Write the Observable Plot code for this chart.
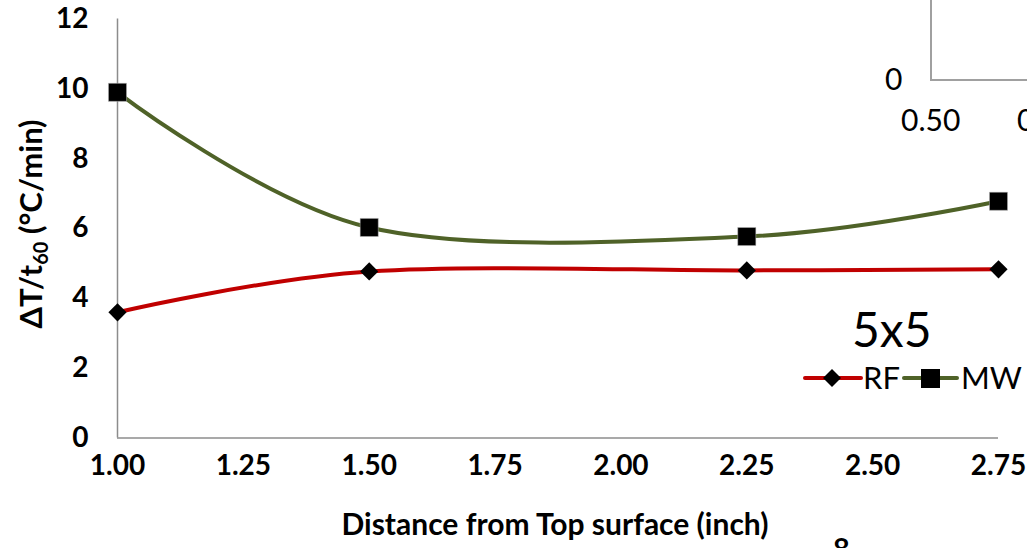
<!DOCTYPE html>
<html><head><meta charset="utf-8">
<script src="https://cdn.jsdelivr.net/npm/d3@7"></script>
<script src="https://cdn.jsdelivr.net/npm/@observablehq/plot@0.6"></script>
<style>
html,body{margin:0;padding:0;background:#fff;}
body{width:1027px;height:548px;overflow:hidden;position:relative;font-family:Lato,sans-serif;}
#chart{position:absolute;left:0;top:0;}
.abs{position:absolute;white-space:nowrap;color:#000;line-height:1.2;}
#ytitle{position:absolute;left:31px;top:224px;transform:translate(-50%,-50%) rotate(-90deg);font-weight:bold;font-size:31px;white-space:nowrap;line-height:1.2;}
#ytitle sub{font-size:20px;vertical-align:-6px;line-height:0;}
#xtitle{position:absolute;left:555px;top:505px;transform:translateX(-50%);font-weight:bold;font-size:30px;}
</style></head><body>
<div id="chart"></div>
<div id="ytitle">ΔT/t<sub>60</sub> (°C/min)</div>
<div id="xtitle" class="abs">Distance from Top surface (inch)</div>
<div class="abs" id="title55" style="left:852px;top:300px;font-size:48px;">5x5</div>
<svg id="legend" style="position:absolute;left:795px;top:356px;overflow:visible;" width="232" height="50">
  <line x1="10" y1="22" x2="66" y2="22" stroke="#C00000" stroke-width="4" stroke-linecap="round"/>
  <path d="M37,13 L46,22 L37,31 L28,22 Z" fill="#000"/>
  <text x="68" y="33" font-size="31" font-family="Lato, sans-serif">RF</text>
  <line x1="109" y1="22" x2="162" y2="22" stroke="#4F6228" stroke-width="4" stroke-linecap="round"/>
  <rect x="126" y="13" width="19" height="19" fill="#000"/>
  <text x="166" y="33" font-size="31" font-family="Lato, sans-serif">MW</text>
</svg>
<!-- fragment of an adjacent chart at the top right -->
<div style="position:absolute;left:930px;top:-2px;width:120px;height:81px;border-left:2px solid #a0a0a0;border-bottom:2px solid #a0a0a0;"></div>
<div class="abs" style="left:885px;top:60px;font-size:30px;">0</div>
<div class="abs" style="left:901px;top:101px;font-size:30px;">0.50</div>
<div class="abs" style="left:1017px;top:101px;font-size:30px;">0</div>
<div class="abs" style="left:833px;top:531px;font-size:29px;font-weight:bold;">8</div>
<script>
const distances = [1.00, 1.50, 2.25, 2.75];
const rfValues = [3.6, 4.77, 4.80, 4.83];
const mwValues = [9.9, 6.03, 5.77, 6.78];
const xTicks = [1.00, 1.25, 1.50, 1.75, 2.00, 2.25, 2.50, 2.75];
const yTicks = [0, 2, 4, 6, 8, 10, 12];

const rf = distances.map((d, i) => ({x: d, y: rfValues[i]}));
const mw = distances.map((d, i) => ({x: d, y: mwValues[i]}));

const chart = Plot.plot({
  width: 1027,
  height: 548,
  marginLeft: 117,
  marginRight: 29,
  marginTop: 18.5,
  marginBottom: 110.5,
  style: {fontFamily: 'Lato,sans-serif', fontSize: "28px", fontWeight: "bold", background: "#fff", color: "#000"},
  x: {domain: [1, 2.75], ticks: xTicks, tickFormat: d3.format(".2f"), tickSize: 0, tickPadding: 17, label: null},
  y: {domain: [0, 12], ticks: yTicks, tickSize: 0, tickPadding: 29, label: null},
  marks: [
    Plot.ruleY([0], {stroke: "#8c8c8c", strokeWidth: 1.5}),
    Plot.ruleX([1], {stroke: "#8c8c8c", strokeWidth: 1.5}),
    Plot.line(mw, {x: "x", y: "y", curve: "cardinal", stroke: "#4F6228", strokeWidth: 4}),
    Plot.line(rf, {x: "x", y: "y", curve: "cardinal", stroke: "#C00000", strokeWidth: 4}),
    Plot.dot(mw, {x: "x", y: "y", symbol: "square", r: 10.2, fill: "#000", stroke: "#bbb", strokeWidth: 0.5}),
    Plot.dot(rf, {x: "x", y: "y", symbol: "diamond2", r: 8.2, fill: "#000"})
  ]
});
document.getElementById("chart").appendChild(chart);
</script>
</body></html>
